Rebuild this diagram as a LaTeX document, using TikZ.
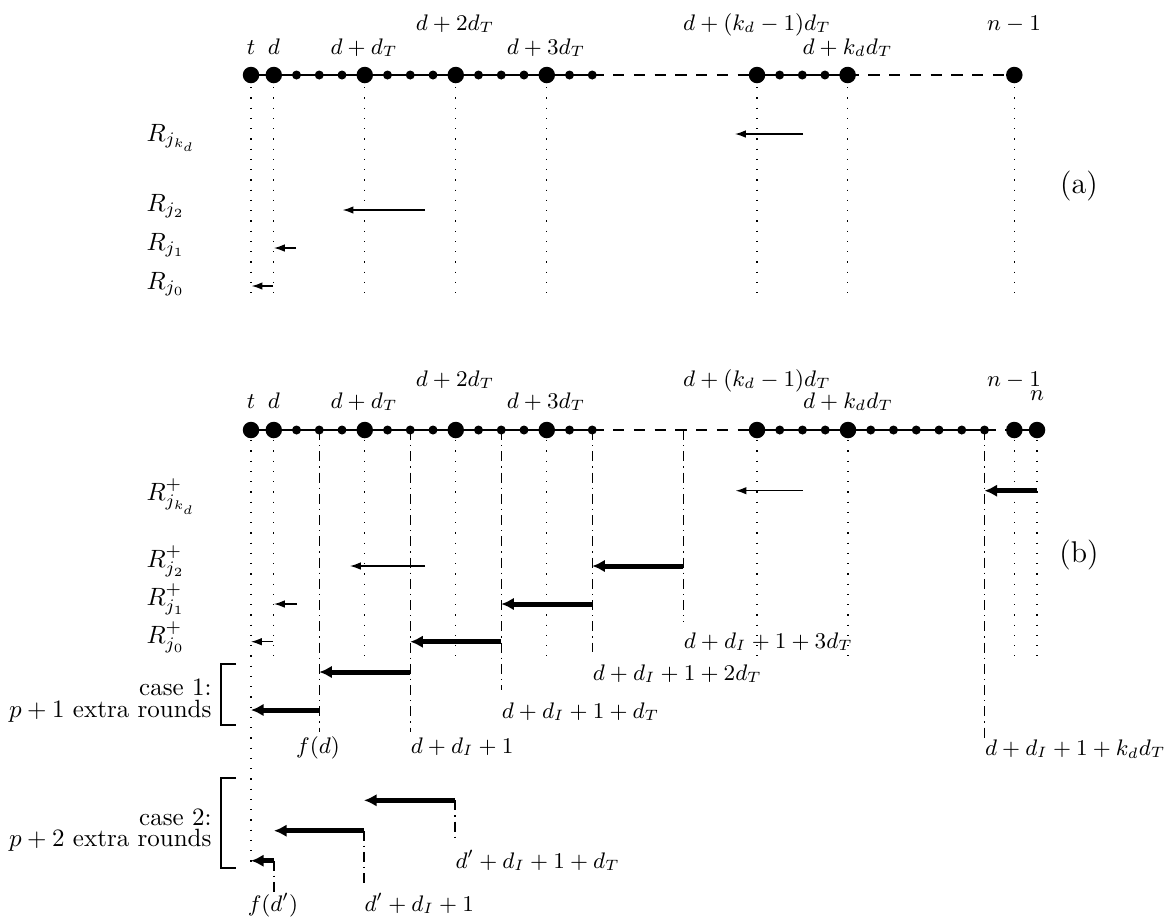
\documentclass[tikz,border=0pt]{standalone}
\usetikzlibrary{arrows.meta}
\newcommand\hArrow[5]{\coordinate (#2s) at (#4,#3);\coordinate (#2e) at (#5,#3);\draw[#1] (#2s) -- (#2e);}
\newcommand\vRule[5]{\coordinate (#2t) at (#3,#4);\coordinate (#2b) at (#3,#5);\draw[#1] (#2t) -- (#2b);}
\begin{document}
\begin{tikzpicture}[x=0.4pt,y=-0.4pt,
  bigdot/.style={circle,fill,inner sep=0pt,minimum size=6.6pt},
  smalldot/.style={circle,fill,inner sep=0pt,minimum size=3.6pt},
  axisline/.style={line width=0.5pt},
  axisdash/.style={line width=0.5pt,dash pattern=on 4.5pt off 3.8pt},
  guide/.style={line width=0.5pt,dash pattern=on 0.5pt off 3.6pt},
  dashdot/.style={line width=0.5pt,dash pattern=on 4pt off 2pt on 0.5pt off 2pt},
  thinarrow/.style={line width=0.5pt,-{Latex[length=4.3pt,width=3pt]}},
  thickarrow/.style={line width=2pt,-{Latex[length=5pt,width=5pt]}},
  ax/.style={font=\small,anchor=base,inner sep=0pt},
  rl/.style={anchor=base west,inner sep=0pt},
  dl/.style={font=\small,anchor=mid west,inner sep=0pt},
  fl/.style={font=\small,anchor=mid,inner sep=0pt},
  ct/.style={anchor=base east,inner sep=0pt},
  bracket/.style={line width=0.5pt}]
\useasboundingbox (0,0) rectangle (1167,923);
% ---------------- (a) ----------------
\foreach \k in {0,...,15}{\coordinate (a\k) at ({251+22.75*\k},75);}
\foreach \m in {0,...,4}{\coordinate (aK\m) at ({757+22.65*\m},75);}
\coordinate (aN) at (1014.3,75);
\coordinate (ga) at (0,300);
\coordinate (gatop) at (0,87);
\draw[axisline] (a0) -- (a15);
\draw[axisdash] (a15) -- (aK0);
\draw[axisline] (aK0) -- (aK4);
\draw[axisdash] (aK4) -- (aN);
\foreach \n in {a0,a1,a5,a9,a13,aK0,aK4,aN}{\draw[guide] (\n |- gatop) -- (\n |- ga);}
\foreach \n in {a0,a1,a5,a9,a13,aK0,aK4,aN}{\node[bigdot] (\n dot) at (\n) {};}
\foreach \n in {a2,a3,a4,a6,a7,a8,a10,a11,a12,a14,a15,aK1,aK2,aK3}{\node[smalldot] (\n dot) at (\n) {};}
\node[ax] (la0) at (251,54) {$t$};
\node[ax] (la1) at (273.75,54) {$d$};
\node[ax] (la5) at (364,54) {$d+d_T$};
\node[ax] (la9) at (455,30) {$d+2d_T$};
\node[ax] (la13) at (546,54) {$d+3d_T$};
\node[ax] (laK0) at (757,30) {$d+(k_d-1)d_T$};
\node[ax] (laK4) at (847.5,54) {$d+k_dd_T$};
\node[ax] (laN) at (1014,30) {$n-1$};
\node[rl] (Ra3) at (146,141) {$R_{j_{k_d}}$};
\node[rl] (Ra2) at (146,211) {$R_{j_2}$};
\node[rl] (Ra1) at (146,250) {$R_{j_1}$};
\node[rl] (Ra0) at (146,289) {$R_{j_0}$};
\hArrow{thinarrow}{ara3}{134}{803}{735}
\hArrow{thinarrow}{ara2}{210}{425}{342.7}
\hArrow{thinarrow}{ara1}{248}{296}{274}
\hArrow{thinarrow}{ara0}{286}{273}{251.7}
\node[font=\large] (tagA) at (1079,186) {(a)};
% ---------------- (b) ----------------
\foreach \k in {0,...,19}{\coordinate (b\k) at ({251+22.75*\k},430);}
\foreach \m in {0,...,10}{\coordinate (bK\m) at ({757+22.75*\m},430);}
\coordinate (bN) at (1014.3,430);
\coordinate (bM) at (1037,430);
\coordinate (gbtop) at (0,440);
\coordinate (gb) at (0,656);
\coordinate (gbt) at (0,869);
\draw[axisline] (b0) -- (b15);
\draw[axisdash] (b15) -- (bK0);
\draw[axisline] (bK0) -- (bK10);
\draw[axisdash] (bK10) -- (bN);
\draw[axisline] (bN) -- (bM);
\draw[guide] (b0 |- gbtop) -- (b0 |- gbt);
\foreach \n in {b1,b5,b9,b13,bK0,bK4,bN,bM}{\draw[guide] (\n |- gbtop) -- (\n |- gb);}
% dash-dotted rules
\coordinate (e732) at (0,732);
\coordinate (e690) at (0,690);
\coordinate (e652) at (0,652);
\coordinate (e622) at (0,622);
\coordinate (e738) at (0,738);
\draw[dashdot] (b3) -- (b3 |- e732);
\draw[dashdot] (b7) -- (b7 |- e732);
\draw[dashdot] (b11) -- (b11 |- e690);
\draw[dashdot] (b15) -- (b15 |- e652);
\draw[dashdot] (b19) -- (b19 |- e622);
\draw[dashdot] (bK10) -- (bK10 |- e738);
\foreach \n in {b0,b1,b5,b9,b13,bK0,bK4,bN,bM}{\node[bigdot] (\n dot) at (\n) {};}
\foreach \n in {b2,b3,b4,b6,b7,b8,b10,b11,b12,b14,b15,bK1,bK2,bK3,bK5,bK6,bK7,bK8,bK9,bK10}{\node[smalldot] (\n dot) at (\n) {};}
\node[ax] (lb0) at (251,408) {$t$};
\node[ax] (lb1) at (273.75,408) {$d$};
\node[ax] (lb5) at (364,408) {$d+d_T$};
\node[ax] (lb9) at (455,386) {$d+2d_T$};
\node[ax] (lb13) at (546,408) {$d+3d_T$};
\node[ax] (lbK0) at (757,386) {$d+(k_d-1)d_T$};
\node[ax] (lbK4) at (848,408) {$d+k_dd_T$};
\node[ax] (lbN) at (1014,386) {$n-1$};
\node[ax] (lbM) at (1037,400) {$n$};
\node[rl] (Rb3) at (146,500) {$R^+_{j_{k_d}}$};
\node[rl] (Rb2) at (146,567) {$R^+_{j_2}$};
\node[rl] (Rb1) at (146,605) {$R^+_{j_1}$};
\node[rl] (Rb0) at (146,643) {$R^+_{j_0}$};
\hArrow{thinarrow}{brt3}{490.7}{802.7}{735.7}
\hArrow{thinarrow}{brt2}{566}{425}{350}
\hArrow{thinarrow}{brt1}{604}{297}{274}
\hArrow{thinarrow}{brt0}{641.7}{273}{251}
\hArrow{thickarrow}{bk3}{490.7}{1037}{984.5}
\hArrow{thickarrow}{bk2}{566}{683.25}{592.25}
\hArrow{thickarrow}{bk1}{604}{592.25}{501.25}
\hArrow{thickarrow}{bk0}{641.7}{501.25}{410.25}
\hArrow{thickarrow}{ca1}{672}{410.25}{319.25}
\hArrow{thickarrow}{ca2}{710}{319.25}{251}
\hArrow{thickarrow}{cb1}{800.3}{455}{364}
\hArrow{thickarrow}{cb2}{830.7}{364}{274}
\hArrow{thickarrow}{cb3}{860.7}{274}{251}
\vRule{dashdot}{vb1}{455}{800.3}{840}
\vRule{dashdot}{vb2}{364}{830.7}{886}
\vRule{dashdot}{vb3}{274}{860.7}{892}
\node[dl] (l3dt) at (683.25,643) {$d+d_I+1+3d_T$};
\node[dl] (l2dt) at (592.25,675) {$d+d_I+1+2d_T$};
\node[dl] (l1dt) at (501.25,713) {$d+d_I+1+d_T$};
\node[dl] (l0dt) at (410.25,748) {$d+d_I+1$};
\node[fl] (lfd) at (318,748) {$f(d)$};
\node[dl] (lkdt) at (984.5,750) {$d+d_I+1+k_dd_T$};
\node[dl] (lp1) at (455,863) {$d'+d_I+1+d_T$};
\node[fl] (lfdp) at (273,906) {$f(d')$};
\node[dl] (lp0) at (364,906) {$d'+d_I+1$};
% brackets
\coordinate (k1a) at (236,664); \coordinate (k1b) at (221,664);
\coordinate (k1c) at (221,725); \coordinate (k1d) at (236,725);
\draw[bracket] (k1a) -- (k1b) -- (k1c) -- (k1d);
\coordinate (k2a) at (236,778); \coordinate (k2b) at (221,778);
\coordinate (k2c) at (221,868); \coordinate (k2d) at (236,868);
\draw[bracket] (k2a) -- (k2b) -- (k2c) -- (k2d);
\node[ct] (c1l1) at (212,695) {case 1:};
\node[ct] (c1l2) at (212,717) {$p+1$ extra rounds};
\node[ct] (c2l1) at (212,825) {case 2:};
\node[ct] (c2l2) at (212,846) {$p+2$ extra rounds};
\node[font=\large] (tagB) at (1079,555) {(b)};
\end{tikzpicture}
\end{document}
